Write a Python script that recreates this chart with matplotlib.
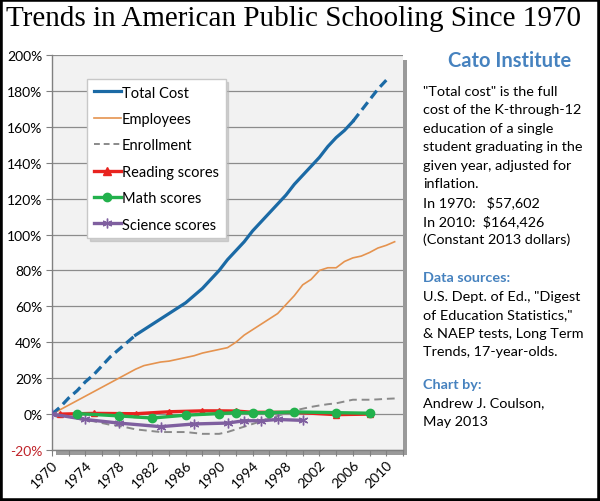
"""
Trends in American Public Schooling Since 1970 (Cato Institute chart remake)
"""

import matplotlib
matplotlib.use("Agg")
import matplotlib.pyplot as plt
from matplotlib.lines import Line2D
from matplotlib.patches import Rectangle

# ── DATA ──────────────────────────────────────────────────────────────────────

years = list(range(1970, 2011))
total_cost = [0, 4, 9, 13, 18, 22, 27, 32, 36, 40, 44, 47, 50, 53, 56, 59, 62,
              66, 70, 75, 80, 86, 91, 96, 102, 107, 112, 117, 122, 128, 133,
              138, 143, 149, 154, 158, 163, 169, 175, 181, 186]

emp_years = list(range(1970, 2012))
employees = [0, 2.5, 5, 7.5, 10, 12.5, 15, 17.5, 20, 22.5, 25, 27, 28, 29, 29.5,
             30.5, 31.5, 32.5, 34, 35, 36, 37, 40, 44, 47, 50, 53, 56, 61, 66,
             72, 75, 80, 81.5, 81.5, 85, 87, 88, 90, 92.5, 94, 96]

enrollment = [0, -0.5, -1.5, -2.5, -3.5, -4, -5, -6, -6.5, -7.5, -8.5, -9, -9.5,
              -10, -10, -10, -10, -10.5, -11, -11, -11, -10, -8.5, -7, -5.5, -4,
              -2.5, -1, 0.5, 2, 3, 4, 4.8, 5.5, 6, 7, 8, 8, 8, 8.2, 8.5, 8.7]

reading_years = [1971, 1975, 1980, 1984, 1988, 1990, 1992, 1994, 1996, 1999, 2004, 2008]
reading = [0, 0.4, 0.2, 1.3, 1.8, 1.8, 1.7, 1.0, 1.0, 1.0, -0.3, 0.0]

math_years = [1973, 1978, 1982, 1986, 1990, 1992, 1994, 1996, 1999, 2004, 2008]
math_scores = [0.3, -1.0, -2.2, -0.6, 0.3, 0.8, 0.7, 0.8, 1.2, 0.8, 0.5]

science_years = [1970, 1974, 1978, 1983, 1987, 1991, 1993, 1995, 1997, 2000]
science = [0, -3.0, -5.0, -7.0, -5.5, -5.0, -3.7, -3.7, -3.0, -3.5]

yticks = list(range(-20, 201, 20))
xlabel_years = list(range(1970, 2011, 4))

side_text = [
    '"Total cost" is the full',
    'cost of the K-through-12',
    'education of a single',
    'student graduating in the',
    'given year, adjusted for',
    'inflation.',
    'In 1970:   $57,602',
    'In 2010:  $164,426',
    '(Constant 2013 dollars)',
]
source_text = [
    'U.S. Dept. of Ed., "Digest',
    'of Education Statistics,"',
    '& NAEP tests, Long Term',
    'Trends, 17-year-olds.',
]
author_text = ['Andrew J. Coulson,', 'May 2013']

# ── STYLE ─────────────────────────────────────────────────────────────────────

BLUE = '#1b6aa5'
ORANGE = '#e5934f'
GRAY = '#8a8a8a'
RED = '#e8231f'
GREEN = '#22b14c'
PURPLE = '#7f5f9f'
CATO = '#4682bf'
FONT = 'Lato'

plt.rcParams['font.family'] = [FONT, 'DejaVu Sans']

W, H = 600, 502
fig = plt.figure(figsize=(W / 100, H / 100), dpi=100)

# plot area in pixels
L, R, T, B = 52, 403, 56, 451
ax = fig.add_axes([L / W, 1 - B / H, (R - L) / W, (B - T) / H])

# drop shadow behind the plot area
fig.patches.append(Rectangle(((L + 4) / W, 1 - (B + 5) / H), (R - L) / W, (B - T) / H,
                             transform=fig.transFigure, facecolor='#9a9a9a',
                             edgecolor='none', zorder=-1))
ax.set_facecolor('#f2f2f2')

# ── PLOT ──────────────────────────────────────────────────────────────────────

i80 = years.index(1980)
i06 = years.index(2006)
ax.plot(years[:i80 + 1], total_cost[:i80 + 1], color=BLUE, lw=2.3, ls=(0, (3, 1.6)), zorder=4)
ax.plot(years[i80:i06 + 1], total_cost[i80:i06 + 1], color=BLUE, lw=2.3, zorder=4)
ax.plot(years[i06:], total_cost[i06:], color=BLUE, lw=2.3, ls=(0, (3, 1.6)), zorder=4)

ax.plot(emp_years, employees, color=ORANGE, lw=1.2, zorder=3)
ax.plot(emp_years, enrollment, color=GRAY, lw=1.4, ls=(0, (4, 2.5)), zorder=3)

ax.plot(reading_years, reading, color=RED, lw=2.4, marker='^', ms=5, zorder=5)
ax.plot(science_years, science, color=PURPLE, lw=2.4, marker=(6, 2, 0), ms=7,
        mew=1, zorder=5)
ax.plot(math_years, math_scores, color=GREEN, lw=2.4, marker='o', ms=6, zorder=6)

# ── AXES ──────────────────────────────────────────────────────────────────────

ax.set_xlim(1970, 2012)
ax.set_ylim(-20, 200)
ax.set_yticks(yticks)
ax.set_yticklabels([f'{v}%' for v in yticks], fontsize=10)
ax.get_yticklabels()[0].set_color('#c0232a')
ax.yaxis.grid(True, color='#8c8c8c', lw=0.9)
ax.set_axisbelow(True)
ax.tick_params(axis='y', length=4, color='#808080', pad=3)

ax.set_xticks(range(1970, 2013, 2))
ax.set_xticklabels([str(y) if y in xlabel_years else '' for y in range(1970, 2013, 2)],
                   rotation=45, ha='right', rotation_mode='anchor', fontsize=10)
ax.tick_params(axis='x', length=4, color='#808080', pad=2)

for s in ['top', 'right']:
    ax.spines[s].set_visible(False)
for s in ['left', 'bottom']:
    ax.spines[s].set_color('#808080')
    ax.spines[s].set_linewidth(1.0)

handles = [
    Line2D([], [], color=BLUE, lw=2.3),
    Line2D([], [], color=ORANGE, lw=1.2),
    Line2D([], [], color=GRAY, lw=1.4, ls=(0, (3, 2))),
    Line2D([], [], color=RED, lw=2.4, marker='^', ms=6),
    Line2D([], [], color=GREEN, lw=2.4, marker='o', ms=6),
    Line2D([], [], color=PURPLE, lw=2.4, marker=(6, 2, 0), ms=7, mew=1),
]
labels = ['Total Cost', 'Employees', 'Enrollment', 'Reading scores',
          'Math scores', 'Science scores']
leg = ax.legend(handles, labels, loc='upper left',
                bbox_to_anchor=((87 - L) / (R - L), (B - 80) / (B - T)),
                borderaxespad=0, fontsize=10.5, handlelength=1.9,
                handletextpad=0.05, labelspacing=0.85, borderpad=0.45,
                fancybox=False, framealpha=1, edgecolor='#c8c8c8',
                shadow={'color': '#b0b0b0'})
leg.set_zorder(10)

# ── TEXT ──────────────────────────────────────────────────────────────────────

fig.text(294 / W, 1 - 19 / H, 'Trends in American Public Schooling Since 1970',
         family='Liberation Serif', fontsize=21, ha='center', va='center')

fig.text(510 / W, 1 - 61 / H, 'Cato Institute', color=CATO, fontsize=14.5,
         fontweight='bold', ha='center', va='center')

x0 = 423 / W
step = 18.5
for i, line in enumerate(side_text):
    fig.text(x0, 1 - (92 + i * step) / H, line, fontsize=10.4, va='center')

fig.text(x0, 1 - 278 / H, 'Data sources:', color=CATO, fontsize=10.4,
         fontweight='bold', va='center')
for i, line in enumerate(source_text):
    fig.text(x0, 1 - (297 + i * step) / H, line, fontsize=10.4, va='center')

fig.text(x0, 1 - 385 / H, 'Chart by:', color=CATO, fontsize=10.4,
         fontweight='bold', va='center')
for i, line in enumerate(author_text):
    fig.text(x0, 1 - (403 + i * step) / H, line, fontsize=10.4, va='center')

# black frame round the whole picture
fig.patches.append(Rectangle((0, 0), 1, 1, transform=fig.transFigure,
                             fill=False, edgecolor='black', lw=4, zorder=20))

fig.savefig('out.png', dpi=100)
